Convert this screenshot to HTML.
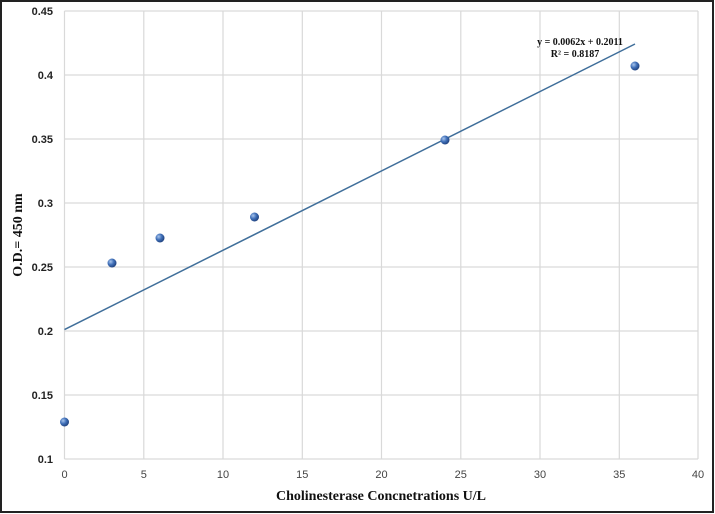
<!DOCTYPE html><html><head><style>body{margin:0;background:#fff}svg{display:block}</style></head><body>
<svg width="715" height="514" xmlns="http://www.w3.org/2000/svg" font-family="Liberation Sans, sans-serif">
<defs><radialGradient id="g" cx="0.35" cy="0.35" r="0.7"><stop offset="0" stop-color="#a8c4ec"/><stop offset="0.5" stop-color="#3f6fb8"/><stop offset="1" stop-color="#1f3f7a"/></radialGradient></defs>
<rect x="1" y="1" width="712" height="511" fill="#fff" stroke="#222" stroke-width="2"/>
<g stroke="#d9d9d9" stroke-width="1.2">
<line x1="64.5" y1="11" x2="698" y2="11"/><line x1="64.5" y1="75" x2="698" y2="75"/><line x1="64.5" y1="139" x2="698" y2="139"/><line x1="64.5" y1="203" x2="698" y2="203"/><line x1="64.5" y1="267" x2="698" y2="267"/><line x1="64.5" y1="331" x2="698" y2="331"/><line x1="64.5" y1="395" x2="698" y2="395"/><line x1="64.5" y1="459" x2="698" y2="459"/>
<line x1="64.5" y1="11" x2="64.5" y2="459"/><line x1="143.8" y1="11" x2="143.8" y2="459"/><line x1="223" y1="11" x2="223" y2="459"/><line x1="302.3" y1="11" x2="302.3" y2="459"/><line x1="381.5" y1="11" x2="381.5" y2="459"/><line x1="460.8" y1="11" x2="460.8" y2="459"/><line x1="540" y1="11" x2="540" y2="459"/><line x1="619.3" y1="11" x2="619.3" y2="459"/><line x1="698" y1="11" x2="698" y2="459"/>
</g>
<g font-size="11" font-weight="bold" text-anchor="end" fill="#222">
<text x="53" y="15">0.45</text><text x="53" y="79">0.4</text><text x="53" y="143">0.35</text><text x="53" y="207">0.3</text><text x="53" y="271">0.25</text><text x="53" y="335">0.2</text><text x="53" y="399">0.15</text><text x="53" y="463">0.1</text></g>
<g font-size="11" text-anchor="middle" fill="#444">
<text x="64.5" y="478">0</text><text x="143.8" y="478">5</text><text x="223" y="478">10</text><text x="302.3" y="478">15</text><text x="381.5" y="478">20</text><text x="460.8" y="478">25</text><text x="540" y="478">30</text><text x="619.3" y="478">35</text><text x="698" y="478">40</text></g>
<text x="381" y="500" font-family="Liberation Serif, serif" font-weight="bold" font-size="14" text-anchor="middle" fill="#111">Cholinesterase Concnetrations U/L</text>
<text transform="translate(22,235) rotate(-90)" font-family="Liberation Serif, serif" font-weight="bold" font-size="14" text-anchor="middle" fill="#111">O.D.= 450 nm</text>
<line x1="64.5" y1="329.6" x2="635" y2="44" stroke="#3f6e9a" stroke-width="1.5"/>
<g font-family="Liberation Serif, serif" font-weight="bold" font-size="10" text-anchor="middle" fill="#111"><text x="580" y="45">y = 0.0062x + 0.2011</text><text x="575" y="57">R² = 0.8187</text></g>
<g fill="url(#g)">
<circle cx="64.5" cy="422" r="4.5"/><circle cx="112" cy="263" r="4.5"/><circle cx="160" cy="238" r="4.5"/><circle cx="254.5" cy="217" r="4.5"/><circle cx="445" cy="140" r="4.5"/><circle cx="635" cy="66" r="4.5"/></g>
</svg></body></html>
